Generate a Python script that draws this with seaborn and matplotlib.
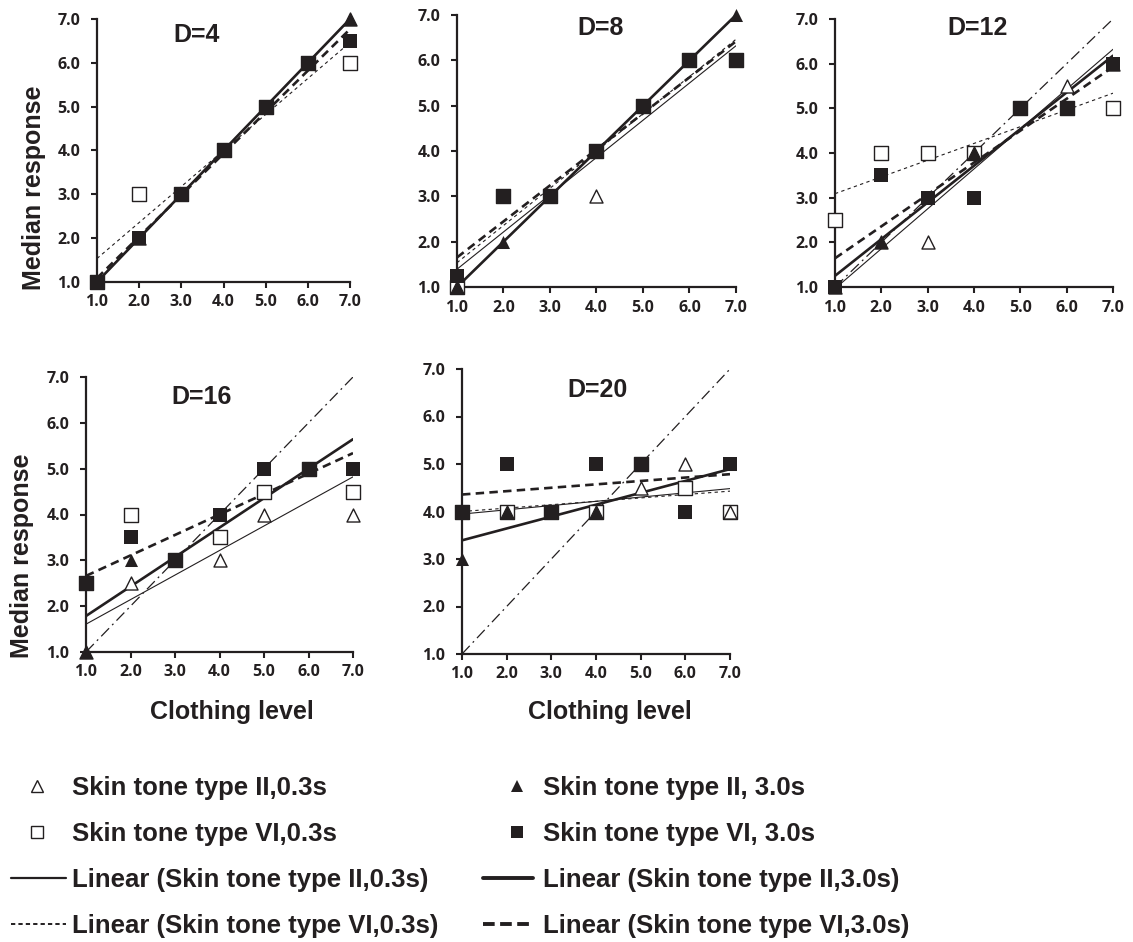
import numpy as np
import pandas as pd
import matplotlib
matplotlib.use("Agg")
import matplotlib.pyplot as plt
import seaborn as sns
from matplotlib.lines import Line2D

# clothing levels (x) and panel names
levels = [1, 2, 3, 4, 5, 6, 7]
panel_titles = ["D=4", "D=8", "D=12", "D=16", "D=20"]

# median responses, one row per panel (D=4, 8, 12, 16, 20)
ii_03 = [
    [1, 2, 3, 4, 5, 6, 7],
    [1, 3, 3, 3, 5, 6, 6],
    [1, 2, 2, 4, 5, 5.5, 6],
    [1, 2.5, 3, 3, 4, 5, 4],
    [4, 4, 4, 4, 4.5, 5, 4],
]
ii_30 = [
    [1, 2, 3, 4, 5, 6, 7],
    [1, 2, 3, 4, 5, 6, 7],
    [1, 2, 3, 4, 5, 5, 6],
    [1, 3, 3, 4, 5, 5, 5],
    [3, 4, 4, 4, 5, 4, 5],
]
vi_03 = [
    [1, 3, 3, 4, 5, 6, 6],
    [1, 3, 3, 4, 5, 6, 6],
    [2.5, 4, 4, 4, 5, 5, 5],
    [2.5, 4, 3, 3.5, 4.5, 5, 4.5],
    [4, 4, 4, 4, 5, 4.5, 4],
]
vi_30 = [
    [1, 2, 3, 4, 5, 6, 6.5],
    [1.25, 3, 3, 4, 5, 6, 6],
    [1, 3.5, 3, 3, 5, 5, 6],
    [2.5, 3.5, 3, 4, 5, 5, 5],
    [4, 5, 4, 5, 5, 4, 5],
]
# the D=16 panel has no trend line for type VI,0.3s
vi_03_trend = [True, True, True, False, True]

ink = "#231f20"
W, H = 1133, 942

sns.set_style("ticks")
plt.rcParams["font.family"] = ["Open Sans", "DejaVu Sans"]
plt.rcParams["font.weight"] = "bold"
label_font = ["Liberation Sans", "DejaVu Sans"]

fig = plt.figure(figsize=(W / 100, H / 100), dpi=100)

# axes boxes in pixels: x at level 1, x at level 7, y at 7, y at 1
boxes = [
    (97, 350, 19, 282),
    (457, 736, 15, 287),
    (835, 1113, 19, 287),
    (86, 353, 377, 652),
    (462, 730, 369, 654),
]
title_pos = [(0.395, 0.94), (0.513, 0.952), (0.514, 0.966), (0.434, 0.927), (0.507, 0.926)]

thin_solid = dict(color=ink, lw=0.8, ls="-")
thin_dot = dict(color=ink, lw=0.8, ls=(0, (3, 3)))
thick_solid = dict(color=ink, lw=1.9, ls="-")
thick_dash = dict(color=ink, lw=1.9, ls=(0, (3.2, 2)))
ident = dict(color=ink, lw=0.9, ls=(0, (9, 3.5, 1.5, 3.5)))

msize = 88

for i, (x0, x1, y7, y1) in enumerate(boxes):
    ax = fig.add_axes([x0 / W, 1 - y1 / H, (x1 - x0) / W, (y1 - y7) / H])

    df = pd.DataFrame({
        "level": levels,
        "ii03": ii_03[i],
        "ii30": ii_30[i],
        "vi03": vi_03[i],
        "vi30": vi_30[i],
    })

    # 1:1 reference line
    ax.plot(df["level"], df["level"], zorder=2, **ident)

    # linear trend lines
    trends = [("ii03", thin_solid), ("vi03", thin_dot), ("ii30", thick_solid), ("vi30", thick_dash)]
    for col, st in trends:
        if col == "vi03" and not vi_03_trend[i]:
            continue
        sns.regplot(data=df, x="level", y=col, scatter=False, ci=None, truncate=True,
                    color=ink, line_kws=dict(lw=st["lw"], ls=st["ls"], zorder=3), ax=ax)

    # markers
    sns.scatterplot(data=df, x="level", y="vi03", marker="s", s=msize, color="white",
                    edgecolor=ink, linewidth=1, zorder=4, clip_on=False, ax=ax)
    sns.scatterplot(data=df, x="level", y="ii03", marker="^", s=msize, color="white",
                    edgecolor=ink, linewidth=1, zorder=5, clip_on=False, ax=ax)
    sns.scatterplot(data=df, x="level", y="ii30", marker="^", s=msize, color=ink,
                    edgecolor=ink, linewidth=0, zorder=6, clip_on=False, ax=ax)
    sns.scatterplot(data=df, x="level", y="vi30", marker="s", s=msize, color=ink,
                    edgecolor=ink, linewidth=0, zorder=7, clip_on=False, ax=ax)

    ax.set_xlim(1, 7)
    ax.set_ylim(1, 7)
    ax.set_xticks(levels)
    ax.set_yticks(levels)
    ax.set_xticklabels([f"{v:.1f}" for v in levels])
    ax.set_yticklabels([f"{v:.1f}" for v in levels])
    sns.despine(ax=ax)
    for s in ["left", "bottom"]:
        ax.spines[s].set_linewidth(1.6)
        ax.spines[s].set_color(ink)
    ax.tick_params(axis="both", direction="out", length=4, width=1.5, color=ink,
                   labelsize=11.5, labelcolor=ink)
    ax.tick_params(axis="x", pad=5)
    ax.tick_params(axis="y", pad=8)
    for lab in ax.get_xticklabels() + ax.get_yticklabels():
        lab.set_fontweight("bold")

    ax.text(title_pos[i][0], title_pos[i][1], panel_titles[i], transform=ax.transAxes,
            ha="center", va="center", fontsize=18, fontweight="bold", color=ink,
            family=label_font)

    ax.set_xlabel("")
    ax.set_ylabel("")
    if i in (0, 3):
        ax.set_ylabel("Median response", fontsize=18, fontweight="bold", color=ink,
                      family=label_font)
        xr = (46 - x0) / (x1 - x0) if i == 0 else (34 - x0) / (x1 - x0)
        yc = (y1 - (188 if i == 0 else 556)) / (y1 - y7)
        ax.yaxis.set_label_coords(xr, yc)
    if i in (3, 4):
        ax.set_xlabel("Clothing level", fontsize=18, fontweight="bold", color=ink,
                      family=label_font)
        xc = ((232 if i == 3 else 610) - x0) / (x1 - x0)
        ax.xaxis.set_label_coords(xc, (y1 - 700) / (y1 - y7))

# legend handles (legend samples are drawn a bit heavier than in the panels)
h_ii03 = Line2D([], [], marker="^", ls="none", ms=8, mfc="white", mec=ink, mew=1)
h_vi03 = Line2D([], [], marker="s", ls="none", ms=8, mfc="white", mec=ink, mew=1)
h_ii30 = Line2D([], [], marker="^", ls="none", ms=9, mfc=ink, mec=ink, mew=0)
h_vi30 = Line2D([], [], marker="s", ls="none", ms=9, mfc=ink, mec=ink, mew=0)
l_ii03 = Line2D([], [], color=ink, lw=1.6, ls="-")
l_vi03 = Line2D([], [], color=ink, lw=1.4, ls=(0, (2.2, 1.6)))
l_ii30 = Line2D([], [], color=ink, lw=2.8, ls="-")
l_vi30 = Line2D([], [], color=ink, lw=2.8, ls=(0, (3, 1.4)))

fs = 18.5
em = fs * 100 / 72
leg_kw = dict(frameon=False, borderpad=0, borderaxespad=0, labelspacing=0.85,
              loc="center left", prop=dict(family=label_font, weight="bold", size=fs),
              labelcolor=ink)

hl = 18 / em  # marker handle width
fig.legend([h_ii03, h_vi03], ["Skin tone type II,0.3s", "Skin tone type VI,0.3s"],
           bbox_to_anchor=(28 / W, 1 - 811 / H), handlelength=hl,
           handletextpad=(72 - 46) / em, **leg_kw)
fig.legend([h_ii30, h_vi30], ["Skin tone type II, 3.0s", "Skin tone type VI, 3.0s"],
           bbox_to_anchor=(508 / W, 1 - 811 / H), handlelength=hl,
           handletextpad=(543 - 526) / em, **leg_kw)
fig.legend([l_ii03, l_vi03], ["Linear (Skin tone type II,0.3s)", "Linear (Skin tone type VI,0.3s)"],
           bbox_to_anchor=(11 / W, 1 - 903 / H), handlelength=55 / em,
           handletextpad=6 / em, **leg_kw)
fig.legend([l_ii30, l_vi30], ["Linear (Skin tone type II,3.0s)", "Linear (Skin tone type VI,3.0s)"],
           bbox_to_anchor=(483 / W, 1 - 903 / H), handlelength=50 / em,
           handletextpad=10 / em, **leg_kw)

fig.savefig("out.png", dpi=100)
